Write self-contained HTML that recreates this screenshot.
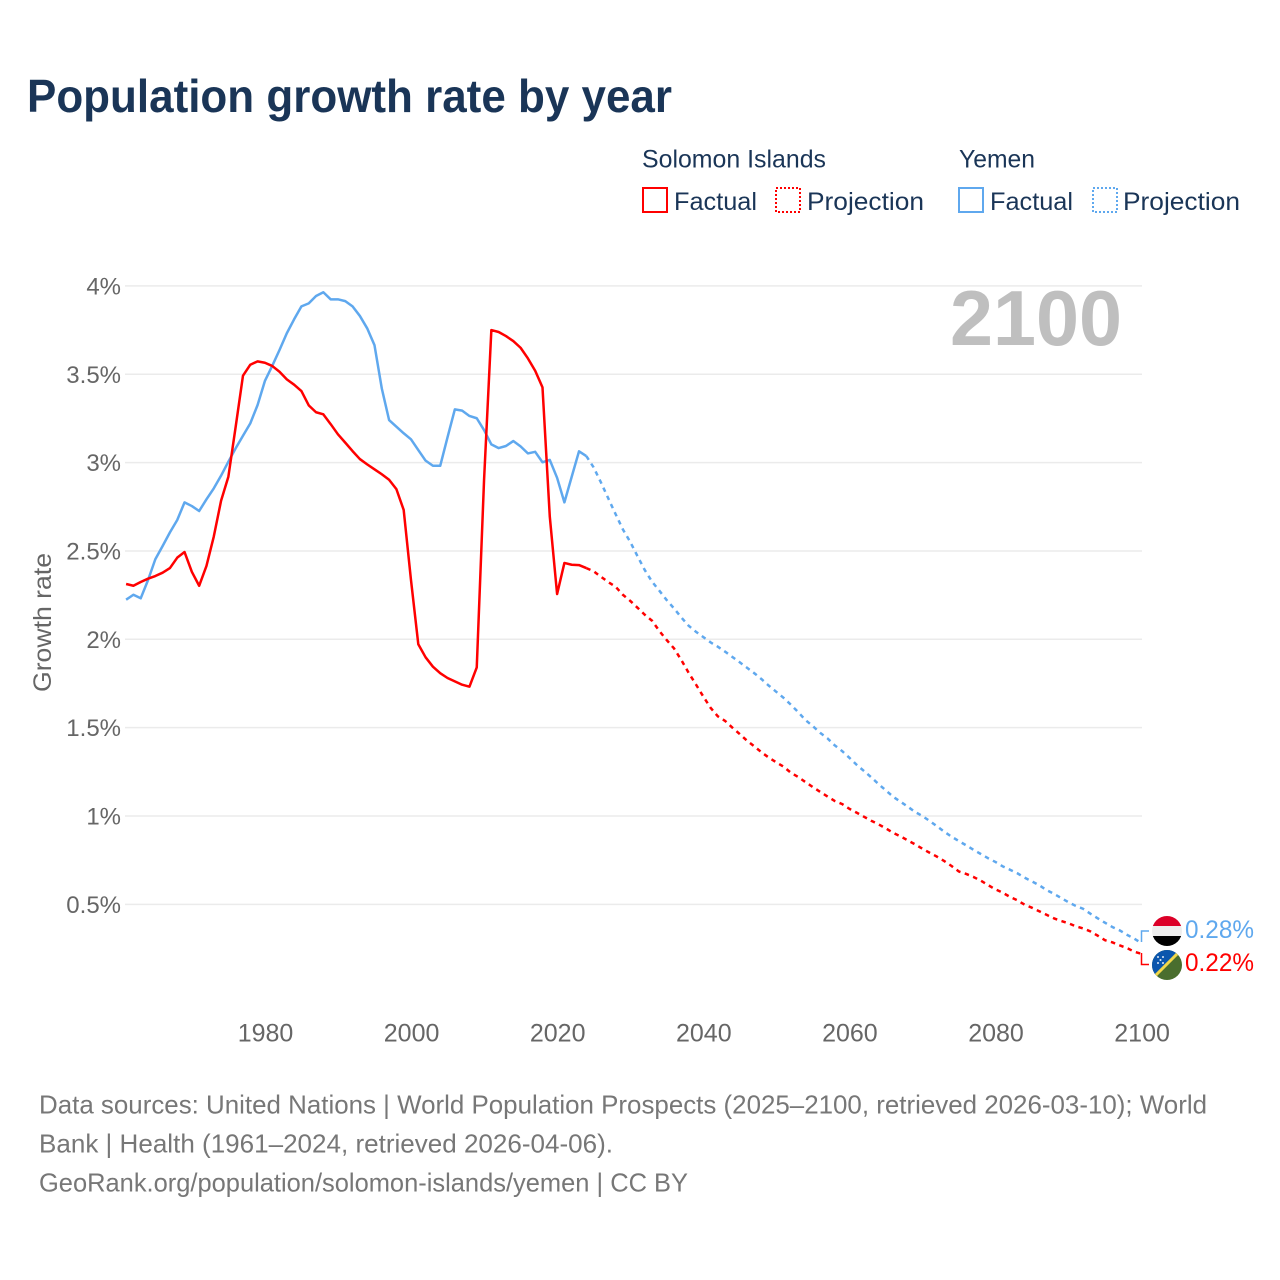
<!DOCTYPE html>
<html lang="en">
<head>
<meta charset="utf-8">
<title>Population growth rate by year</title>
<style>
html,body{margin:0;padding:0;background:#fff;}
svg{display:block;font-family:"Liberation Sans",sans-serif;}
</style>
</head>
<body>
<svg id="chart" xmlns="http://www.w3.org/2000/svg" width="1280" height="1280" viewBox="0 0 1280 1280">
  <defs>
    <clipPath id="clip-yemen"><circle cx="1167" cy="931" r="15"/></clipPath>
    <clipPath id="clip-solomon"><circle cx="1167" cy="965" r="15"/></clipPath>
  </defs>
  <rect width="1280" height="1280" fill="#fff"/>
  <text x="27" y="112" font-size="46" font-weight="700" fill="#1a3557" textLength="645" lengthAdjust="spacingAndGlyphs">Population growth rate by year</text>

  <g font-size="25" fill="#1a3557">
    <text x="642" y="167.5" textLength="184" lengthAdjust="spacingAndGlyphs">Solomon Islands</text>
    <text x="959" y="167.5" textLength="76" lengthAdjust="spacingAndGlyphs">Yemen</text>
    <g>
      <rect x="643" y="188" width="24" height="24" fill="none" stroke="#ff0000" stroke-width="2"/>
      <text x="674" y="210" textLength="83" lengthAdjust="spacingAndGlyphs">Factual</text>
    </g>
    <g>
      <rect x="776" y="188" width="24" height="24" fill="none" stroke="#ff0000" stroke-width="2" stroke-dasharray="2 2"/>
      <text x="807" y="210" textLength="117" lengthAdjust="spacingAndGlyphs">Projection</text>
    </g>
    <g>
      <rect x="959" y="188" width="24" height="24" fill="none" stroke="#5fa8ee" stroke-width="2"/>
      <text x="990" y="210" textLength="83" lengthAdjust="spacingAndGlyphs">Factual</text>
    </g>
    <g>
      <rect x="1093" y="188" width="24" height="24" fill="none" stroke="#5fa8ee" stroke-width="2" stroke-dasharray="2 2"/>
      <text x="1123" y="210" textLength="117" lengthAdjust="spacingAndGlyphs">Projection</text>
    </g>
  </g>

  <g id="grid"></g>
  <g id="y-ticks" font-size="24" fill="#666"></g>
  <g id="x-ticks" font-size="25" fill="#666"></g>
  <text transform="translate(51,692) rotate(-90)" font-size="25" fill="#666" textLength="139" lengthAdjust="spacingAndGlyphs">Growth rate</text>

  <text x="950" y="345" font-size="78" font-weight="700" fill="#bfbfbf" textLength="172" lengthAdjust="spacingAndGlyphs">2100</text>

  <g id="series"></g>

  <path d="M1141.5 942V931H1149" fill="none" stroke="#5fa8ee" stroke-width="1.5"/>
  <path d="M1141.5 953V964.5H1149" fill="none" stroke="#ff0000" stroke-width="1.5"/>

  <g clip-path="url(#clip-yemen)">
    <rect x="1150" y="915" width="34" height="11" fill="#dc0028"/>
    <rect x="1150" y="926" width="34" height="11" fill="#eeeeee"/>
    <rect x="1150" y="936" width="34" height="11" fill="#000000"/>
  </g>
  <g clip-path="url(#clip-solomon)">
    <rect x="1150" y="948" width="34" height="34" fill="#4a6e2e"/>
    <path d="M1150 982V948H1184Z" fill="#0b56ad"/>
    <path d="M1154 977L1180 951" stroke="#f2d84a" stroke-width="3" fill="none"/>
    <g fill="#dfe9f5">
      <circle cx="1158" cy="957" r="1"/><circle cx="1163" cy="957" r="1"/>
      <circle cx="1160.5" cy="960" r="1"/><circle cx="1158" cy="963" r="1"/><circle cx="1163" cy="963" r="1"/>
    </g>
  </g>
  <text x="1185" y="938" font-size="25" fill="#5fa8ee" textLength="69" lengthAdjust="spacingAndGlyphs">0.28%</text>
  <text x="1185" y="971" font-size="25" fill="#ff0000" textLength="69" lengthAdjust="spacingAndGlyphs">0.22%</text>

  <g font-size="26" fill="#777">
    <text x="39" y="1113.5" textLength="1168" lengthAdjust="spacingAndGlyphs">Data sources: United Nations | World Population Prospects (2025–2100, retrieved 2026-03-10); World</text>
    <text x="39" y="1152.5" textLength="574" lengthAdjust="spacingAndGlyphs">Bank | Health (1961–2024, retrieved 2026-04-06).</text>
    <text x="39" y="1191.5" textLength="649" lengthAdjust="spacingAndGlyphs">GeoRank.org/population/solomon-islands/yemen | CC BY</text>
  </g>
</svg>
<script>
const yTickValues = [0.5, 1, 1.5, 2, 2.5, 3, 3.5, 4];
const yTickLabels = ["0.5%", "1%", "1.5%", "2%", "2.5%", "3%", "3.5%", "4%"];
const xTickYears = [1980, 2000, 2020, 2040, 2060, 2080, 2100];
const factualStartYear = 1961;
const projectionStartYear = 2024;
const solomonFactual = [2.313,2.303,2.324,2.343,2.358,2.377,2.403,2.462,2.494,2.382,2.303,2.415,2.581,2.784,2.920,3.203,3.492,3.554,3.573,3.565,3.547,3.514,3.471,3.441,3.405,3.324,3.285,3.273,3.218,3.160,3.113,3.065,3.020,2.990,2.962,2.934,2.903,2.850,2.732,2.335,1.972,1.898,1.845,1.808,1.781,1.762,1.743,1.732,1.841,2.901,3.750,3.739,3.716,3.688,3.650,3.590,3.520,3.426,2.694,2.256,2.432,2.422,2.420,2.403];
const solomonProjection = [2.403,2.385,2.354,2.324,2.298,2.252,2.218,2.179,2.139,2.105,2.047,1.996,1.949,1.883,1.811,1.745,1.677,1.613,1.564,1.538,1.500,1.464,1.426,1.394,1.360,1.330,1.304,1.279,1.245,1.221,1.192,1.164,1.137,1.111,1.085,1.068,1.041,1.019,0.996,0.973,0.953,0.930,0.905,0.885,0.862,0.840,0.815,0.792,0.770,0.745,0.717,0.686,0.672,0.655,0.634,0.609,0.585,0.566,0.542,0.523,0.498,0.481,0.461,0.441,0.421,0.406,0.393,0.376,0.364,0.347,0.323,0.297,0.285,0.268,0.253,0.232,0.22];
const yemenFactual = [2.224,2.252,2.232,2.335,2.453,2.528,2.605,2.675,2.775,2.754,2.726,2.792,2.854,2.926,3.005,3.081,3.152,3.222,3.326,3.462,3.547,3.637,3.732,3.811,3.884,3.901,3.943,3.964,3.924,3.924,3.914,3.884,3.830,3.760,3.665,3.420,3.241,3.203,3.166,3.132,3.071,3.011,2.982,2.982,3.143,3.301,3.294,3.264,3.251,3.184,3.103,3.082,3.094,3.122,3.092,3.052,3.061,3.002,3.015,2.914,2.775,2.920,3.064,3.037];
const yemenProjection = [3.037,2.973,2.888,2.798,2.709,2.622,2.552,2.471,2.392,2.326,2.275,2.222,2.175,2.124,2.077,2.043,2.013,1.983,1.958,1.930,1.900,1.870,1.839,1.808,1.774,1.737,1.703,1.669,1.630,1.588,1.543,1.509,1.471,1.440,1.400,1.368,1.330,1.290,1.255,1.219,1.181,1.145,1.109,1.081,1.053,1.023,1.000,0.972,0.942,0.911,0.883,0.858,0.834,0.809,0.785,0.761,0.740,0.715,0.696,0.676,0.651,0.630,0.608,0.581,0.560,0.536,0.512,0.491,0.475,0.447,0.421,0.396,0.372,0.353,0.328,0.306,0.28];

const SVG_NS = "http://www.w3.org/2000/svg";
function xScale(year) { return 264.9 + (year - 1980) * 7.305; }
function yScale(value) { return 992.7 - value * 176.7; }

const gridGroup = document.getElementById("grid");
const yTickGroup = document.getElementById("y-ticks");
yTickValues.forEach(function (value, i) {
  const line = document.createElementNS(SVG_NS, "line");
  line.setAttribute("x1", 125);
  line.setAttribute("x2", 1142);
  line.setAttribute("y1", yScale(value));
  line.setAttribute("y2", yScale(value));
  line.setAttribute("stroke", "#ebebeb");
  line.setAttribute("stroke-width", 1.5);
  
  
  gridGroup.appendChild(line);

  const label = document.createElementNS(SVG_NS, "text");
  label.setAttribute("x", 121);
  label.setAttribute("y", yScale(value) + 8.5);
  label.setAttribute("text-anchor", "end");
  label.textContent = yTickLabels[i];
  
  
  yTickGroup.appendChild(label);
});

const xTickGroup = document.getElementById("x-ticks");
xTickYears.forEach(function (year) {
  const label = document.createElementNS(SVG_NS, "text");
  label.setAttribute("x", xScale(year) + 0.6);
  label.setAttribute("y", 1041.5);
  label.setAttribute("text-anchor", "middle");
  label.textContent = String(year);
  
  
  xTickGroup.appendChild(label);
});

const seriesGroup = document.getElementById("series");
function drawLine(values, startYear, color, dashed, name) {
  const path = document.createElementNS(SVG_NS, "path");
  const d = values.map(function (value, i) {
    return (i ? "L" : "M") + xScale(startYear + i).toFixed(2) + " " + yScale(value).toFixed(2);
  }).join("");
  path.setAttribute("d", d);
  path.setAttribute("fill", "none");
  path.setAttribute("stroke", color);
  path.setAttribute("stroke-width", 2.5);
  path.setAttribute("stroke-linejoin", "round");
  if (dashed) path.setAttribute("stroke-dasharray", "4.5 4.5");
  
  
  seriesGroup.appendChild(path);
}
drawLine(yemenFactual, factualStartYear, "#5fa8ee", false, "line-yemen-factual");
drawLine(solomonFactual, factualStartYear, "#ff0000", false, "line-solomon-factual");
drawLine(yemenProjection, projectionStartYear, "#5fa8ee", true, "line-yemen-projection");
drawLine(solomonProjection, projectionStartYear, "#ff0000", true, "line-solomon-projection");
</script>
</body>
</html>
